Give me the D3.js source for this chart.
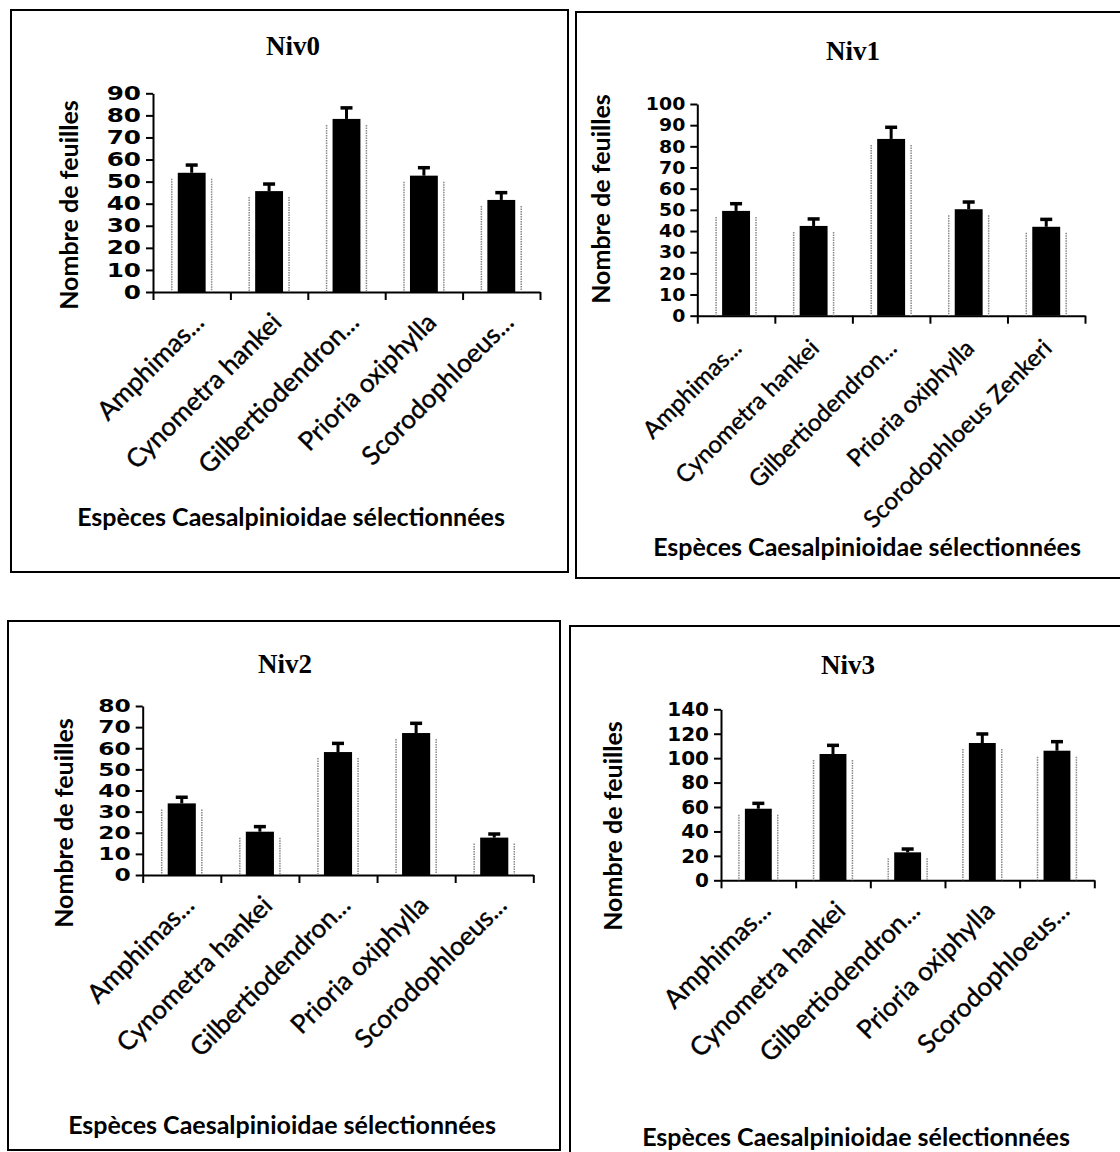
<!DOCTYPE html>
<html><head><meta charset="utf-8">
<script src="https://cdn.jsdelivr.net/npm/d3@7"></script>
<style>body{margin:0;background:#fff} svg{display:block}</style>
</head><body>
<svg id="c" width="1120" height="1152"></svg>
<script>
// ---- data ----
const categories = ["Amphimas...", "Cynometra hankei", "Gilbertiodendron...", "Prioria oxiphylla", "Scorodophloeus..."];
const categoriesNiv1 = ["Amphimas...", "Cynometra hankei", "Gilbertiodendron...", "Prioria oxiphylla", "Scorodophloeus Zenkeri"];
const titles = ["Niv0", "Niv1", "Niv2", "Niv3"];
const yAxisLabel = "Nombre de feuilles";
const xAxisLabel = "Espèces Caesalpinioidae sélectionnées";
const niv0Values = [54.0, 45.7, 78.4, 52.7, 41.7];
const niv0Errors = [3.5, 3.2, 5.0, 3.6, 3.3];
const niv1Values = [49.5, 42.4, 83.5, 50.3, 42.0];
const niv1Errors = [3.4, 3.3, 5.5, 3.4, 3.5];
const niv2Values = [33.9, 20.5, 58.2, 67.2, 17.7];
const niv2Errors = [2.9, 2.4, 4.1, 4.6, 1.7];
const niv3Values = [58.6, 103.4, 22.9, 112.4, 106.1];
const niv3Errors = [4.4, 7.1, 2.7, 7.4, 7.4];
const niv0Ticks = [0, 10, 20, 30, 40, 50, 60, 70, 80, 90];
const niv1Ticks = [0, 10, 20, 30, 40, 50, 60, 70, 80, 90, 100];
const niv2Ticks = [0, 10, 20, 30, 40, 50, 60, 70, 80];
const niv3Ticks = [0, 20, 40, 60, 80, 100, 120, 140];

// ---- layout ----
const panels = [
  {title: titles[0], cats: categories, values: niv0Values, errors: niv0Errors, ticks: niv0Ticks,
   frame: [11, 10, 557, 562], x0: 153, x1: 540, y0: 292, y1: 93.3, tickFont: 19, tickScale: 1.3,
   catFont: 26, catOff: [14, 32],
   titleXY: [293, 55], yLabXY: [78, 205], xTitleXY: [291, 526]},
  {title: titles[1], cats: categoriesNiv1, values: niv1Values, errors: niv1Errors, ticks: niv1Ticks,
   frame: [576, 12, 560, 566], x0: 697.3, x1: 1085, y0: 315.7, y1: 104, tickFont: 18, tickScale: 1.05,
   catFont: 24, catOff: [7, 34],
   titleXY: [853, 60], yLabXY: [610, 199], xTitleXY: [867, 556]},
  {title: titles[2], cats: categories, values: niv2Values, errors: niv2Errors, ticks: niv2Ticks,
   frame: [8, 621, 552, 529], x0: 142.7, x1: 533.3, y0: 875, y1: 706, tickFont: 18, tickScale: 1.3,
   catFont: 26, catOff: [14, 32],
   titleXY: [285, 673], yLabXY: [73, 823], xTitleXY: [282, 1134]},
  {title: titles[3], cats: categories, values: niv3Values, errors: niv3Errors, ticks: niv3Ticks,
   frame: [570, 626, 560, 540], x0: 721, x1: 1094.3, y0: 880.3, y1: 709.3, tickFont: 20, tickScale: 1.0,
   catFont: 26, catOff: [14, 32],
   titleXY: [848, 674], yLabXY: [622, 826], xTitleXY: [856, 1146]}
];

const svg = d3.select("#c");
const sans = "Lato, 'Open Sans', sans-serif";

panels.forEach(p => {
  const g = svg.append("g");
  g.append("rect").attr("x", p.frame[0]).attr("y", p.frame[1])
    .attr("width", p.frame[2]).attr("height", p.frame[3])
    .attr("fill", "none").attr("stroke", "#000").attr("stroke-width", 2);

  const yMax = p.ticks[p.ticks.length - 1];
  const y = d3.scaleLinear().domain([0, yMax]).range([p.y0, p.y1]);
  const xb = d3.scaleBand().domain(p.cats).range([p.x0, p.x1]).paddingInner(0.64).paddingOuter(0.32);
  const xl = d3.scaleLinear().domain([0, p.cats.length]).range([p.x0, p.x1]);

  // y axis
  const ya = g.append("g").attr("transform", `translate(${p.x0},0)`)
    .call(d3.axisLeft(y).tickValues(p.ticks).tickSize(7).tickSizeOuter(0).tickPadding(5));
  ya.select(".domain").attr("stroke-width", 2);
  ya.selectAll(".tick line").attr("stroke-width", 2);
  ya.selectAll(".tick text")
    .attr("x", 0)
    .attr("transform", `translate(-12,0) scale(${p.tickScale},1)`)
    .attr("font-family", "'DejaVu Sans', sans-serif")
    .attr("font-weight", "bold").attr("font-size", p.tickFont).attr("fill", "#000");

  // x axis
  const xa = g.append("g").attr("transform", `translate(0,${p.y0})`)
    .call(d3.axisBottom(xl).tickValues(d3.range(0, p.cats.length + 1)).tickFormat("").tickSize(8).tickSizeOuter(0));
  xa.select(".domain").attr("stroke-width", 2);
  xa.selectAll(".tick line").attr("stroke-width", 2);

  const bw = xb.bandwidth();
  p.cats.forEach((c, i) => {
    const v = p.values[i], e = p.errors[i];
    const bx = xb(c);
    [bx - 6, bx + bw + 6].forEach(lx => {
      g.append("line").attr("x1", lx).attr("x2", lx)
        .attr("y1", y(v) + 6).attr("y2", p.y0)
        .attr("stroke", "#888").attr("stroke-width", 1.5).attr("stroke-dasharray", "1.5,1");
    });
    g.append("rect").attr("x", bx).attr("y", y(v)).attr("width", bw).attr("height", p.y0 - y(v))
      .attr("fill", "#000");
    const cx = bx + bw / 2;
    g.append("line").attr("x1", cx).attr("x2", cx).attr("y1", y(v)).attr("y2", y(v + e))
      .attr("stroke", "#000").attr("stroke-width", 3);
    g.append("line").attr("x1", cx - 6).attr("x2", cx + 6).attr("y1", y(v + e)).attr("y2", y(v + e))
      .attr("stroke", "#000").attr("stroke-width", 3.5);
    g.append("text").attr("text-anchor", "end")
      .attr("transform", `translate(${cx + p.catOff[0]},${p.y0 + p.catOff[1]}) rotate(-45)`)
      .attr("font-family", sans).attr("font-size", p.catFont).attr("fill", "#000")
      .attr("stroke", "#000").attr("stroke-width", 0.4)
      .text(c);
  });

  g.append("text").attr("x", p.titleXY[0]).attr("y", p.titleXY[1]).attr("text-anchor", "middle")
    .attr("font-family", "'Liberation Serif', 'Times New Roman', serif").attr("font-weight", "bold")
    .attr("font-size", 27).text(p.title);
  g.append("text").attr("transform", `translate(${p.yLabXY[0]},${p.yLabXY[1]}) rotate(-90)`)
    .attr("text-anchor", "middle").attr("font-family", sans).attr("font-weight", "bold")
    .attr("font-size", 25).text(yAxisLabel);
  g.append("text").attr("x", p.xTitleXY[0]).attr("y", p.xTitleXY[1]).attr("text-anchor", "middle")
    .attr("font-family", sans).attr("font-weight", "bold").attr("font-size", 25).text(xAxisLabel);
});
</script>
</body></html>
